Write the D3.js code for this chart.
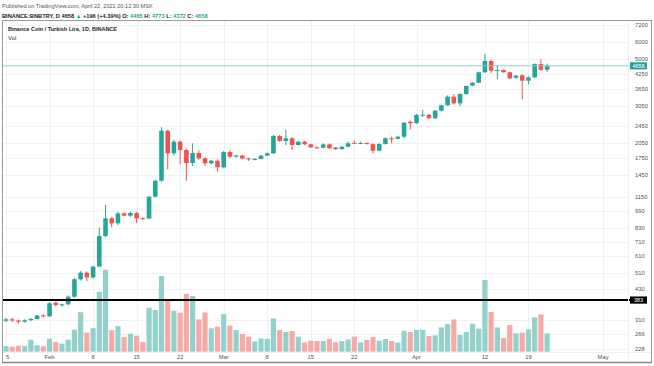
<!DOCTYPE html>
<html><head><meta charset="utf-8">
<script src="https://cdn.jsdelivr.net/npm/d3@7"></script>
<style>body{margin:0;background:#fff}svg{display:block}text{font-family:"Liberation Sans",Arial,sans-serif}</style>
</head><body><svg id="c" width="654" height="366"></svg>
<script>
// ---- data (BNB/TRY daily, Jan 25 – Apr 22 2021) ----
const startDate = "2021-01-25";
const opens  = [307,312,308,304,309,313,325,322,372,363,366,397,478,513,488,547,758,916,868,966,942,970,918,914,1154,1368,2330,1830,2074,1898,1652,1838,1737,1647,1693,1578,1858,1767,1788,1737,1719,1725,1788,1832,2204,2090,2151,2002,2074,2017,1953,1945,2017,1950,1915,1966,2050,2035,2045,2020,1884,2024,2151,2140,2188,2567,2524,2750,2765,2662,2886,3057,3351,3123,3449,3770,3890,4347,4904,4420,4455,4347,4103,4210,3974,4121,4750,4465];
const highs  = [316,317,311,312,316,326,330,375,378,368,402,485,522,520,553,830,1056,930,985,975,985,980,925,1165,1380,2418,2360,2120,2100,1930,2039,1890,1760,1710,1720,1880,1900,1810,1800,1750,1740,1800,1850,2230,2230,2360,2180,2090,2090,2030,1975,2040,2035,1960,1975,2080,2100,2070,2060,2040,2040,2170,2190,2200,2560,2600,2790,2908,2790,2910,3080,3400,3450,3470,3780,3920,4380,5285,4960,4700,4480,4380,4230,4260,4160,4780,4994,4773];
const lows   = [303,303,298,301,306,311,319,320,358,356,362,392,472,470,480,545,750,832,850,935,930,870,900,905,1145,1350,1544,1790,1626,1368,1600,1710,1600,1630,1505,1560,1740,1750,1720,1690,1700,1715,1780,1820,2070,2000,1898,1990,2000,1940,1925,1935,1920,1900,1905,1955,2020,2020,2010,1832,1870,2010,2040,2125,2150,2367,2510,2700,2640,2640,2860,3040,3080,3030,3420,3750,3870,4320,4301,4035,4330,4050,4060,3259,3820,4080,4420,4372];
const closes = [312,308,304,309,313,325,322,370,363,366,397,478,513,488,547,758,916,868,966,942,970,916,914,1154,1368,2332,1830,2074,1898,1652,1838,1737,1647,1693,1578,1858,1767,1788,1737,1719,1725,1788,1832,2204,2090,2151,2002,2074,2017,1953,1945,2017,1933,1915,1966,2039,2035,2045,2030,1884,2024,2151,2140,2188,2540,2524,2757,2765,2662,2886,3057,3351,3123,3449,3756,3890,4347,4904,4422,4455,4347,4077,4192,3974,4121,4750,4465,4658];
const volumes = [5.7,5,6,5.7,12,6.5,5.5,13,9.7,8,12,22,39.5,19,23.5,60,82,21.5,25.7,14.7,18,16,9.7,44,41.7,75.7,51,41,39,58,55.7,32.3,39.3,23.3,25,37.7,26,21.7,17.7,15,10.3,13.3,12.7,33.3,21.7,19.7,20.7,15,9.3,11,10.7,10.7,12.7,9.3,10.7,12.3,15,9.3,11.7,14.7,11,12.7,10.7,9,21,19.7,21.7,22,15.7,16.3,24.3,27.7,32.3,16.7,19.7,28,23,71.7,39.7,24.3,13.7,26.7,18.3,19,22.3,34.3,37.3,18.3];
const priceTicks = [7200,6000,5000,4250,3650,3050,2450,2050,1750,1450,1150,990,830,710,610,510,430,310,266,228];
const timeTickDates  = ["2021-01-25","2021-02-01","2021-02-08","2021-02-15","2021-02-22","2021-03-01","2021-03-08","2021-03-15","2021-03-22","2021-04-01","2021-04-12","2021-04-19","2021-05-01"];
const timeTickLabels = ["25","Feb","8","15","22","Mar","8","15","22","Apr","12","19","May"];
const lastPrice = 4658;
const levelPrice = 383;
const headerLine1 = "Published on TradingView.com, April 22, 2021 20:12:30 MSK";
const chartTitle = "Binance Coin / Turkish Lira, 1D, BINANCE";

// ---- drawing ----
const svg = d3.select("#c");
const UP = "#26a69a", DOWN = "#ef5350";
const UPV = "#93d2cc", DOWNV = "#f7a9a7";
const parse = d3.utcParse("%Y-%m-%d");
const d0 = parse(startDate);
const data = opens.map((o,i)=>({date:d3.utcDay.offset(d0,i),o,h:highs[i],l:lows[i],c:closes[i],v:volumes[i]}));

const plot = {l:3, r:628, t:21, b:352};
const x = d3.scaleUtc().domain([d0, parse("2021-05-01")]).range([6, 603.1]);
const y = d3.scaleLog().domain([228,7200]).range([348.7,25]);
const yv = d3.scaleLinear().domain([0,100]).range([351.7,251.7]);

svg.append("defs").append("clipPath").attr("id","pc").append("rect")
  .attr("x",plot.l).attr("y",plot.t).attr("width",plot.r-plot.l).attr("height",plot.b-plot.t);
svg.select("defs").append("clipPath").attr("id","tc").append("rect")
  .attr("x",5.6).attr("y",352).attr("width",620).attr("height",12);

// header
svg.append("text").attr("x",2).attr("y",8).attr("font-size",5.6).attr("fill","#555").text(headerLine1);
const h2 = svg.append("text").attr("x",2).attr("y",17.5).attr("font-size",5.7).attr("font-weight","bold").attr("fill","#222");
[["BINANCE:BNBTRY, D ","#222"],["4658 ","#222"],["▲ ",UP],["+196 (+4.39%) ","#222"],
 ["O: ","#222"],["4465 ",UP],["H: ","#222"],["4773 ",UP],["L: ","#222"],["4372 ",UP],["C: ","#222"],["4658",UP]]
 .forEach(([t,c])=>h2.append("tspan").attr("fill",c).text(t));

// frame
svg.append("rect").attr("x",2.5).attr("y",20.5).attr("width",649).attr("height",342)
  .attr("fill","none").attr("stroke","#9a9a9a").attr("stroke-width",1);
svg.append("line").attr("x1",2).attr("x2",652).attr("y1",362.5).attr("y2",362.5).attr("stroke","#888").attr("stroke-width",1.5);

const g = svg.append("g").attr("clip-path","url(#pc)");
// grid
g.selectAll(".hg").data(priceTicks).join("line")
  .attr("x1",plot.l).attr("x2",plot.r).attr("y1",d=>Math.round(y(d))+0.5).attr("y2",d=>Math.round(y(d))+0.5)
  .attr("stroke","#eef1f6").attr("stroke-width",1);
g.selectAll(".vg").data(timeTickDates).join("line")
  .attr("x1",d=>Math.round(x(parse(d)))+0.5).attr("x2",d=>Math.round(x(parse(d)))+0.5)
  .attr("y1",plot.t).attr("y2",plot.b).attr("stroke","#eef1f6").attr("stroke-width",1);

// volume
g.selectAll(".vb").data(data).join("rect")
  .attr("x",d=>x(d.date)-2.6).attr("width",5.2)
  .attr("y",d=>yv(d.v)).attr("height",d=>yv(0)-yv(d.v))
  .attr("fill",d=>d.c>=d.o?UPV:DOWNV);

// candles
const cg = g.selectAll(".cd").data(data).join("g");
cg.append("line").attr("x1",d=>x(d.date)).attr("x2",d=>x(d.date))
  .attr("y1",d=>y(d.h)).attr("y2",d=>y(d.l))
  .attr("stroke",d=>d.c>=d.o?UP:DOWN).attr("stroke-width",1);
cg.append("rect").attr("x",d=>x(d.date)-2.3).attr("width",4.6)
  .attr("y",d=>y(Math.max(d.o,d.c)))
  .attr("height",d=>Math.max(1,y(Math.min(d.o,d.c))-y(Math.max(d.o,d.c))))
  .attr("fill",d=>d.c>=d.o?UP:DOWN);

// price line & level line
svg.append("line").attr("x1",plot.l).attr("x2",630).attr("y1",y(lastPrice)).attr("y2",y(lastPrice))
  .attr("stroke","#8fd0c9").attr("stroke-width",1);
svg.append("line").attr("x1",plot.l).attr("x2",630).attr("y1",y(levelPrice)).attr("y2",y(levelPrice))
  .attr("stroke","#000").attr("stroke-width",2);

// axes separators
svg.append("line").attr("x1",plot.r+0.5).attr("x2",plot.r+0.5).attr("y1",21).attr("y2",362).attr("stroke","#eceff4");
svg.append("line").attr("x1",3).attr("x2",651).attr("y1",352.5).attr("y2",352.5).attr("stroke","#eceff4");

// price axis labels
svg.selectAll(".pl").data(priceTicks).join("text")
  .attr("x",635).attr("y",d=>y(d)).attr("dy","0.35em").attr("font-size",5.8).attr("fill","#50535e").text(d=>d);
// badges
[[lastPrice,UP],[levelPrice,"#000"]].forEach(([p,c])=>{
  svg.append("rect").attr("x",630).attr("y",y(p)-3.6).attr("width",17).attr("height",7.2).attr("fill",c);
  svg.append("text").attr("x",638.5).attr("y",y(p)).attr("dy","0.35em").attr("text-anchor","middle")
    .attr("font-size",5.5).attr("fill","#fff").text(p);
});

// time axis labels
svg.append("g").attr("clip-path","url(#tc)").selectAll("text").data(timeTickDates).join("text")
  .attr("x",d=>x(parse(d))).attr("y",358.5).attr("text-anchor","middle").attr("font-size",5.8)
  .attr("fill","#50535e").text((d,i)=>timeTickLabels[i]);

// titles inside
svg.append("text").attr("x",8).attr("y",31).attr("font-size",5.5).attr("font-weight","bold").attr("fill","#222").text(chartTitle);
svg.append("text").attr("x",8).attr("y",40).attr("font-size",6).attr("fill","#333").text("Vol");
</script></body></html>
